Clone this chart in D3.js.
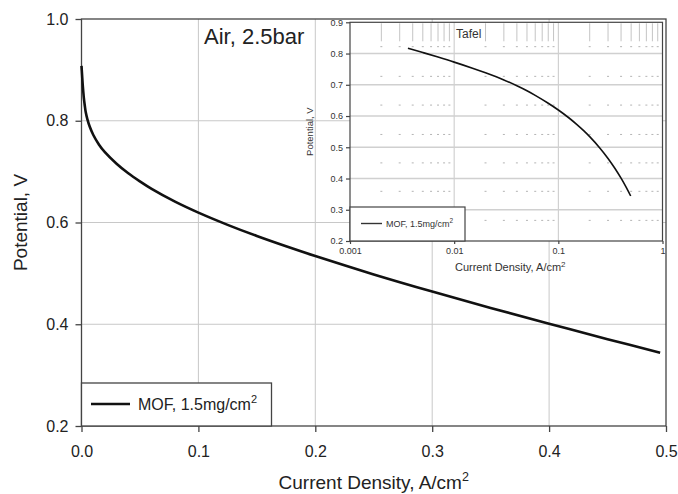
<!DOCTYPE html>
<html>
<head>
<meta charset="utf-8">
<script src="https://cdn.jsdelivr.net/npm/d3@7"></script>
<style>
  body { margin: 0; background: #fff; }
  svg { display: block; font-family: Arial, "Liberation Sans", sans-serif; }
</style>
</head>
<body>
<div class="chart"></div>
<script>
// polarization curve
const current = [0, 0.0005, 0.001, 0.0015, 0.002, 0.0028, 0.0036, 0.005, 0.007, 0.01, 0.015, 0.02, 0.03, 0.04,
  0.05, 0.06, 0.08, 0.1, 0.125, 0.15, 0.175, 0.2, 0.25, 0.3, 0.35, 0.4, 0.45, 0.495];
const potential = [0.908, 0.89, 0.872, 0.858, 0.845, 0.83, 0.817, 0.8032, 0.7886, 0.7725, 0.753, 0.7382, 0.7155, 0.6967,
  0.6807, 0.666, 0.6409, 0.6193, 0.5953, 0.5734, 0.5532, 0.534, 0.498, 0.4643, 0.4321, 0.401, 0.3707, 0.344];

const xTicks = [0, 0.1, 0.2, 0.3, 0.4, 0.5];
const yTicks = [0.2, 0.4, 0.6, 0.8, 1.0];
const insetXTicks = [0.001, 0.01, 0.1, 1];
const insetYTicks = [0.2, 0.3, 0.4, 0.5, 0.6, 0.7, 0.8, 0.9];
const insetMinorRows = [0.822, 0.727, 0.635, 0.541, 0.45, 0.359, 0.266];

const data = current.map((c, i) => ({c: c, v: potential[i]}));

const width = 678, height = 494;
const svg = d3.select('.chart').append('svg')
  .attr('width', width)
  .attr('height', height);

const x = d3.scaleLinear().domain([0, 0.5]).range([81.5, 666]);
const y = d3.scaleLinear().domain([0.2, 1.0]).range([426, 19]);

// main grid
svg.selectAll('line.vgrid')
  .data(xTicks.slice(1, -1))
  .enter().append('line')
  .attr('x1', d => x(d)).attr('x2', d => x(d))
  .attr('y1', y(0.2)).attr('y2', y(1.0))
  .attr('stroke', '#c8c8c8').attr('stroke-width', 1);
svg.selectAll('line.hgrid')
  .data(yTicks.slice(1, -1))
  .enter().append('line')
  .attr('x1', x(0)).attr('x2', x(0.5))
  .attr('y1', d => y(d)).attr('y2', d => y(d))
  .attr('stroke', '#c8c8c8').attr('stroke-width', 1);

svg.append('rect')
  .attr('x', x(0)).attr('y', y(1.0))
  .attr('width', x(0.5) - x(0)).attr('height', y(0.2) - y(1.0))
  .attr('fill', 'none').attr('stroke', '#444').attr('stroke-width', 1.3);

const xAxis = svg.append('g')
  .attr('transform', `translate(0,${y(0.2)})`)
  .call(d3.axisBottom(x).tickValues(xTicks).tickFormat(d3.format('.1f')).tickSize(6).tickPadding(14));
const yAxis = svg.append('g')
  .attr('transform', `translate(${x(0)},0)`)
  .call(d3.axisLeft(y).tickValues(yTicks).tickFormat(d3.format('.1f')).tickSize(6).tickPadding(7));
[xAxis, yAxis].forEach(g => {
  g.select('.domain').remove();
  g.selectAll('line').attr('stroke', '#444').attr('stroke-width', 1.3);
  g.selectAll('text').attr('font-size', 16).attr('fill', '#222')
    .attr('font-family', 'Arial, "Liberation Sans", sans-serif');
});

const line = d3.line().x(d => x(d.c)).y(d => y(d.v)).curve(d3.curveCatmullRom.alpha(0.5));
svg.append('path')
  .datum(data)
  .attr('d', line)
  .attr('fill', 'none').attr('stroke', '#111').attr('stroke-width', 2.6);

// axis titles
const xt = svg.append('text')
  .attr('x', (x(0) + x(0.5)) / 2).attr('y', 489)
  .attr('text-anchor', 'middle').attr('font-size', 19).attr('fill', '#222')
  .text('Current Density, A/cm');
xt.append('tspan').attr('dy', -8).attr('font-size', 12.5).text('2');

svg.append('text')
  .attr('transform', `translate(27,${(y(0.2) + y(1.0)) / 2}) rotate(-90)`)
  .attr('text-anchor', 'middle').attr('font-size', 19).attr('fill', '#222')
  .text('Potential, V');

svg.append('text')
  .attr('x', 204).attr('y', 44)
  .attr('font-size', 22).attr('fill', '#222')
  .text('Air, 2.5bar');

// main legend
svg.append('rect')
  .attr('x', x(0)).attr('y', 383)
  .attr('width', 190).attr('height', y(0.2) - 383)
  .attr('fill', '#fff').attr('stroke', '#444').attr('stroke-width', 1.3);
svg.append('line')
  .attr('x1', 91).attr('x2', 130).attr('y1', 404).attr('y2', 404)
  .attr('stroke', '#111').attr('stroke-width', 2.6);
const lg = svg.append('text')
  .attr('x', 138).attr('y', 410)
  .attr('font-size', 16).attr('fill', '#222')
  .text('MOF, 1.5mg/cm');
lg.append('tspan').attr('dy', -7).attr('font-size', 11).text('2');

// ---- inset (Tafel, log x) ----
const ix = d3.scaleLog().domain([0.001, 1]).range([350, 662.5]);
const iy = d3.scaleLinear().domain([0.2, 0.9]).range([241, 22.3]);

svg.append('rect')
  .attr('x', ix(0.001)).attr('y', iy(0.9))
  .attr('width', ix(1) - ix(0.001)).attr('height', iy(0.2) - iy(0.9))
  .attr('fill', '#fff');

const minorX = [];
[0.001, 0.01, 0.1].forEach(dec => {
  for (let k = 2; k <= 9; k++) minorX.push(dec * k);
});

svg.selectAll('line.ivgrid')
  .data([0.01, 0.1])
  .enter().append('line')
  .attr('x1', d => ix(d)).attr('x2', d => ix(d))
  .attr('y1', iy(0.2)).attr('y2', iy(0.9))
  .attr('stroke', '#c8c8c8').attr('stroke-width', 1);
svg.selectAll('line.ihgrid')
  .data(insetYTicks.slice(1, -1))
  .enter().append('line')
  .attr('x1', ix(0.001)).attr('x2', ix(1))
  .attr('y1', d => iy(d)).attr('y2', d => iy(d))
  .attr('stroke', '#d0d0d0').attr('stroke-width', 1.5);

// the short minor marks along the top
svg.selectAll('line.itop')
  .data(minorX)
  .enter().append('line')
  .attr('x1', d => ix(d)).attr('x2', d => ix(d))
  .attr('y1', iy(0.9) + 1).attr('y2', iy(0.9) + 19)
  .attr('stroke', '#c4c4c4').attr('stroke-width', 1);

// dotted minor rows
insetMinorRows.forEach(r => {
  svg.selectAll(null)
    .data(minorX)
    .enter().append('line')
    .attr('x1', d => ix(d) - 1).attr('x2', d => ix(d) + 1)
    .attr('y1', iy(r)).attr('y2', iy(r))
    .attr('stroke', '#b4b4b4').attr('stroke-width', 1);
});

svg.append('rect')
  .attr('x', ix(0.001)).attr('y', iy(0.9))
  .attr('width', ix(1) - ix(0.001)).attr('height', iy(0.2) - iy(0.9))
  .attr('fill', 'none').attr('stroke', '#444').attr('stroke-width', 1.2);

const ixAxis = svg.append('g')
  .attr('transform', `translate(0,${iy(0.2)})`)
  .call(d3.axisBottom(ix).tickValues(insetXTicks).tickFormat(d => String(d)).tickSize(3).tickPadding(4));
const iyAxis = svg.append('g')
  .attr('transform', `translate(${ix(0.001)},0)`)
  .call(d3.axisLeft(iy).tickValues(insetYTicks).tickFormat(d3.format('.1f')).tickSize(4).tickPadding(3));
[ixAxis, iyAxis].forEach(g => {
  g.select('.domain').remove();
  g.selectAll('line').attr('stroke', '#444').attr('stroke-width', 1.2);
  g.selectAll('text').attr('font-size', 9).attr('fill', '#333')
    .attr('font-family', 'Arial, "Liberation Sans", sans-serif');
});

const iline = d3.line().x(d => ix(d.c)).y(d => iy(d.v)).curve(d3.curveCatmullRom.alpha(0.5));
svg.append('path')
  .datum(data.filter(d => d.c >= 0.0036))
  .attr('d', iline)
  .attr('fill', 'none').attr('stroke', '#111').attr('stroke-width', 1.6);

svg.append('text')
  .attr('x', 456).attr('y', 38)
  .attr('font-size', 12).attr('fill', '#333')
  .text('Tafel');

const ixt = svg.append('text')
  .attr('x', (ix(0.001) + ix(1)) / 2 + 4).attr('y', 271)
  .attr('text-anchor', 'middle').attr('font-size', 11).attr('fill', '#333')
  .text('Current Density, A/cm');
ixt.append('tspan').attr('dy', -4).attr('font-size', 8).text('2');

svg.append('text')
  .attr('transform', `translate(313,${(iy(0.2) + iy(0.9)) / 2}) rotate(-90)`)
  .attr('text-anchor', 'middle').attr('font-size', 9.5).attr('fill', '#333')
  .text('Potential, V');

// inset legend
svg.append('rect')
  .attr('x', ix(0.001)).attr('y', 207)
  .attr('width', 115).attr('height', iy(0.2) - 207)
  .attr('fill', '#fff').attr('stroke', '#444').attr('stroke-width', 1.2);
svg.append('line')
  .attr('x1', 361).attr('x2', 382).attr('y1', 223.5).attr('y2', 223.5)
  .attr('stroke', '#333').attr('stroke-width', 1.4);
const ilg = svg.append('text')
  .attr('x', 386).attr('y', 227)
  .attr('font-size', 9).attr('fill', '#333')
  .text('MOF, 1.5mg/cm');
ilg.append('tspan').attr('dy', -4).attr('font-size', 6.5).text('2');
</script>
</body>
</html>
